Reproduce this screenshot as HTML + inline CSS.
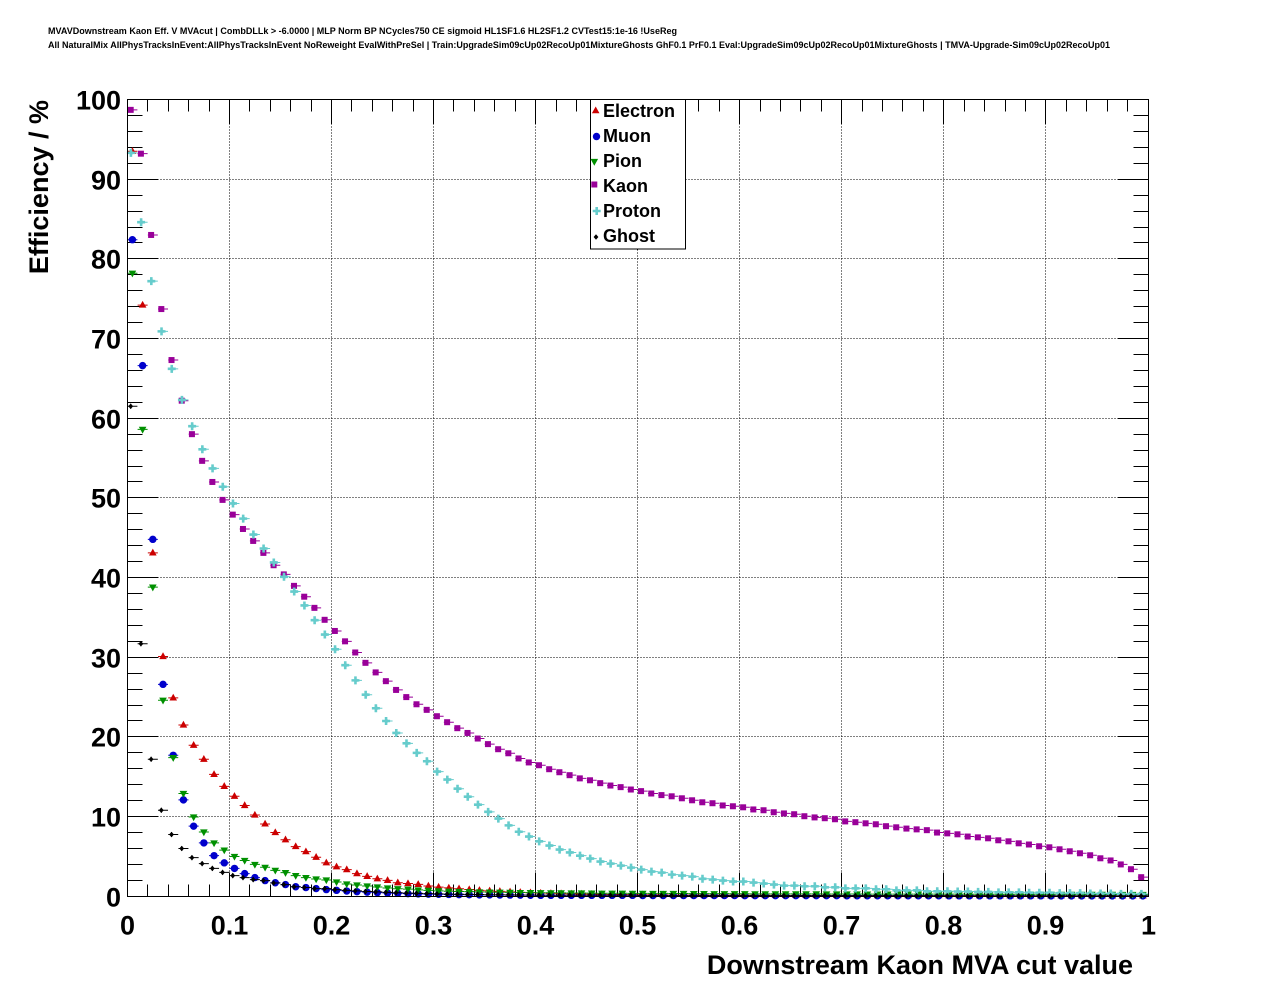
<!DOCTYPE html>
<html><head><meta charset="utf-8">
<style>
html,body{margin:0;padding:0;background:#fff;}
svg{display:block;}
text{font-family:"Liberation Sans",Arial,sans-serif;font-weight:bold;fill:#000;}
</style></head><body>
<svg width="1276" height="996" viewBox="0 0 1276 996" xmlns="http://www.w3.org/2000/svg">
<defs>
<marker id="mE" markerUnits="userSpaceOnUse" markerWidth="1" markerHeight="1" refX="0" refY="0" overflow="visible"><g transform="scale(0.097972,-0.125502)"><path d="M-5,0H5M0,-1.5V1.5" stroke="#cc0000" stroke-width="1" fill="none"/><path d="M0,-4.2L3.8,2.6L-3.8,2.6Z" fill="#cc0000"/></g></marker>
<marker id="mM" markerUnits="userSpaceOnUse" markerWidth="1" markerHeight="1" refX="0" refY="0" overflow="visible"><g transform="scale(0.097972,-0.125502)"><path d="M-5,0H5M0,-1.5V1.5" stroke="#0000cc" stroke-width="1" fill="none"/><circle cx="0" cy="0" r="3.7" fill="#0000cc"/></g></marker>
<marker id="mP" markerUnits="userSpaceOnUse" markerWidth="1" markerHeight="1" refX="0" refY="0" overflow="visible"><g transform="scale(0.097972,-0.125502)"><path d="M-5,0H5M0,-1.5V1.5" stroke="#009000" stroke-width="1" fill="none"/><path d="M-3.8,-2.6L3.8,-2.6L0,4.2Z" fill="#009000"/></g></marker>
<marker id="mK" markerUnits="userSpaceOnUse" markerWidth="1" markerHeight="1" refX="0" refY="0" overflow="visible"><g transform="scale(0.097972,-0.125502)"><path d="M-5,0H5M0,-1.5V1.5" stroke="#990099" stroke-width="1" fill="none"/><rect x="-4.7" y="-3" width="6" height="6" fill="#990099"/></g></marker>
<marker id="mR" markerUnits="userSpaceOnUse" markerWidth="1" markerHeight="1" refX="0" refY="0" overflow="visible"><g transform="scale(0.097972,-0.125502)"><path d="M-5,0H5M0,-1.5V1.5" stroke="#66cccc" stroke-width="1" fill="none"/><path d="M-2.8,-4H-0.2V-1.3H2.5V1.3H-0.2V4H-2.8V1.3H-5.5V-1.3H-2.8Z" fill="#66cccc"/></g></marker>
<marker id="mG" markerUnits="userSpaceOnUse" markerWidth="1" markerHeight="1" refX="0" refY="0" overflow="visible"><g transform="scale(0.097972,-0.125502)"><path d="M-5,0H5M-1.7,-2.5V2.5" stroke="#000" stroke-width="1" fill="none"/><path d="M-1.7,-2.8L0.7,0L-1.7,2.8L-4.1,0Z" fill="#000"/></g></marker>
</defs>

<rect x="0" y="0" width="1276" height="996" fill="#fff"/>

<!-- titles -->
<text x="48" y="34" font-size="9" textLength="629" lengthAdjust="spacingAndGlyphs">MVAVDownstream Kaon Eff. V MVAcut | CombDLLk &gt; -6.0000 | MLP Norm BP NCycles750 CE sigmoid HL1SF1.6 HL2SF1.2 CVTest15:1e-16 !UseReg</text>
<text x="48" y="48" font-size="9" textLength="1062" lengthAdjust="spacingAndGlyphs">All NaturalMix AllPhysTracksInEvent:AllPhysTracksInEvent NoReweight EvalWithPreSel | Train:UpgradeSim09cUp02RecoUp01MixtureGhosts GhF0.1 PrF0.1 Eval:UpgradeSim09cUp02RecoUp01MixtureGhosts | TMVA-Upgrade-Sim09cUp02RecoUp01</text>

<!-- grid -->
<g stroke="#000" stroke-width="1" stroke-dasharray="1,2" fill="none">
<path d="M229.5,99.5V896M331.5,99.5V896M433.5,99.5V896M535.5,99.5V896M637.5,99.5V896M739.5,99.5V896M841.5,99.5V896M943.5,99.5V896M1045.5,99.5V896"/>
<path d="M127.5,816.5H1148.5M127.5,736.5H1148.5M127.5,657.5H1148.5M127.5,577.5H1148.5M127.5,497.5H1148.5M127.5,418.5H1148.5M127.5,338.5H1148.5M127.5,258.5H1148.5M127.5,179.5H1148.5"/>
</g>

<!-- ticks -->
<g stroke="#000" stroke-width="1" fill="none">
<path d="M147.5,896.5v-12M168.5,896.5v-12M188.5,896.5v-12M209.5,896.5v-12M229.5,896.5v-24M249.5,896.5v-12M270.5,896.5v-12M290.5,896.5v-12M311.5,896.5v-12M331.5,896.5v-24M351.5,896.5v-12M372.5,896.5v-12M392.5,896.5v-12M413.5,896.5v-12M433.5,896.5v-24M453.5,896.5v-12M474.5,896.5v-12M494.5,896.5v-12M515.5,896.5v-12M535.5,896.5v-24M556.5,896.5v-12M576.5,896.5v-12M596.5,896.5v-12M617.5,896.5v-12M637.5,896.5v-24M658.5,896.5v-12M678.5,896.5v-12M698.5,896.5v-12M719.5,896.5v-12M739.5,896.5v-24M760.5,896.5v-12M780.5,896.5v-12M800.5,896.5v-12M821.5,896.5v-12M841.5,896.5v-24M862.5,896.5v-12M882.5,896.5v-12M902.5,896.5v-12M923.5,896.5v-12M943.5,896.5v-24M964.5,896.5v-12M984.5,896.5v-12M1005.5,896.5v-12M1025.5,896.5v-12M1045.5,896.5v-24M1066.5,896.5v-12M1086.5,896.5v-12M1107.5,896.5v-12M1127.5,896.5v-12"/>
<path d="M147.5,99.5v12M168.5,99.5v12M188.5,99.5v12M209.5,99.5v12M229.5,99.5v24M249.5,99.5v12M270.5,99.5v12M290.5,99.5v12M311.5,99.5v12M331.5,99.5v24M351.5,99.5v12M372.5,99.5v12M392.5,99.5v12M413.5,99.5v12M433.5,99.5v24M453.5,99.5v12M474.5,99.5v12M494.5,99.5v12M515.5,99.5v12M535.5,99.5v24M556.5,99.5v12M576.5,99.5v12M596.5,99.5v12M617.5,99.5v12M637.5,99.5v24M658.5,99.5v12M678.5,99.5v12M698.5,99.5v12M719.5,99.5v12M739.5,99.5v24M760.5,99.5v12M780.5,99.5v12M800.5,99.5v12M821.5,99.5v12M841.5,99.5v24M862.5,99.5v12M882.5,99.5v12M902.5,99.5v12M923.5,99.5v12M943.5,99.5v24M964.5,99.5v12M984.5,99.5v12M1005.5,99.5v12M1025.5,99.5v12M1045.5,99.5v24M1066.5,99.5v12M1086.5,99.5v12M1107.5,99.5v12M1127.5,99.5v12"/>
<path d="M127.5,880.5h15M127.5,864.5h15M127.5,848.5h15M127.5,832.5h15M127.5,816.5h31M127.5,800.5h15M127.5,784.5h15M127.5,768.5h15M127.5,752.5h15M127.5,736.5h31M127.5,720.5h15M127.5,705.5h15M127.5,689.5h15M127.5,673.5h15M127.5,657.5h31M127.5,641.5h15M127.5,625.5h15M127.5,609.5h15M127.5,593.5h15M127.5,577.5h31M127.5,561.5h15M127.5,545.5h15M127.5,529.5h15M127.5,513.5h15M127.5,497.5h31M127.5,481.5h15M127.5,466.5h15M127.5,450.5h15M127.5,434.5h15M127.5,418.5h31M127.5,402.5h15M127.5,386.5h15M127.5,370.5h15M127.5,354.5h15M127.5,338.5h31M127.5,322.5h15M127.5,306.5h15M127.5,290.5h15M127.5,274.5h15M127.5,258.5h31M127.5,242.5h15M127.5,227.5h15M127.5,211.5h15M127.5,195.5h15M127.5,179.5h31M127.5,163.5h15M127.5,147.5h15M127.5,131.5h15M127.5,115.5h15"/>
<path d="M1148.5,880.5h-15M1148.5,864.5h-15M1148.5,848.5h-15M1148.5,832.5h-15M1148.5,816.5h-31M1148.5,800.5h-15M1148.5,784.5h-15M1148.5,768.5h-15M1148.5,752.5h-15M1148.5,736.5h-31M1148.5,720.5h-15M1148.5,705.5h-15M1148.5,689.5h-15M1148.5,673.5h-15M1148.5,657.5h-31M1148.5,641.5h-15M1148.5,625.5h-15M1148.5,609.5h-15M1148.5,593.5h-15M1148.5,577.5h-31M1148.5,561.5h-15M1148.5,545.5h-15M1148.5,529.5h-15M1148.5,513.5h-15M1148.5,497.5h-31M1148.5,481.5h-15M1148.5,466.5h-15M1148.5,450.5h-15M1148.5,434.5h-15M1148.5,418.5h-31M1148.5,402.5h-15M1148.5,386.5h-15M1148.5,370.5h-15M1148.5,354.5h-15M1148.5,338.5h-31M1148.5,322.5h-15M1148.5,306.5h-15M1148.5,290.5h-15M1148.5,274.5h-15M1148.5,258.5h-31M1148.5,242.5h-15M1148.5,227.5h-15M1148.5,211.5h-15M1148.5,195.5h-15M1148.5,179.5h-31M1148.5,163.5h-15M1148.5,147.5h-15M1148.5,131.5h-15M1148.5,115.5h-15"/>
</g>

<!-- data -->
<g transform="translate(132.4,896.3) scale(10.207,-7.968)" fill="none" stroke="none">
<polyline marker-start="url(#mE)" marker-mid="url(#mE)" marker-end="url(#mE)" points="0,93.5 1,74.2 2,43.1 3,30.1 4,24.9 5,21.5 6,18.96 7,17.2 8,15.3 9,13.8 10,12.55 11,11.4 12,10.2 13,9.08 14,8 15,7.1 16,6.24 17,5.6 18,4.9 19,4.2 20,3.7 21,3.35 22,2.85 23,2.5 24,2.2 25,2 26,1.7 27,1.6 28,1.5 29,1.3 30,1.15 31,1.05 32,.95 33,.85 34,.75 35,.68 36,.62 37,.56 38,.5 39,.45 40,.4 41,.37 42,.34 43,.31 44,.29 45,.27 46,.25 47,.23 48,.22 49,.21 50,.2 51,.19 52,.18 53,.17 54,.17 55,.16 56,.16 57,.15 58,.15 59,.14 60,.14 61,.13 62,.13 63,.13 64,.12 65,.12 66,.12 67,.11 68,.11 69,.11 70,.1 71,.1 72,.1 73,.1 74,.1 75,.09 76,.09 77,.09 78,.09 79,.09 80,.08 81,.08 82,.08 83,.08 84,.08 85,.07 86,.07 87,.07 88,.07 89,.07 90,.06 91,.06 92,.06 93,.06 94,.06 95,.05 96,.05 97,.05 98,.05 99,.05"/>
<polyline marker-start="url(#mM)" marker-mid="url(#mM)" marker-end="url(#mM)" points="0,82.4 1,66.6 2,44.8 3,26.6 4,17.7 5,12.1 6,8.8 7,6.7 8,5.1 9,4.2 10,3.5 11,2.85 12,2.35 13,1.97 14,1.7 15,1.47 16,1.2 17,1.1 18,.97 19,.84 20,.75 21,.66 22,.58 23,.52 24,.46 25,.41 26,.37 27,.33 28,.3 29,.27 30,.25 31,.23 32,.21 33,.19 34,.18 35,.17 36,.16 37,.15 38,.14 39,.13 40,.12 41,.12 42,.12 43,.12 44,.12 45,.12 46,.12 47,.12 48,.12 49,.12 50,.1 51,.1 52,.1 53,.1 54,.1 55,.1 56,.1 57,.1 58,.1 59,.1 60,.08 61,.08 62,.08 63,.08 64,.08 65,.08 66,.08 67,.08 68,.08 69,.08 70,.07 71,.07 72,.07 73,.07 74,.07 75,.07 76,.07 77,.07 78,.07 79,.07 80,.06 81,.06 82,.06 83,.06 84,.06 85,.06 86,.06 87,.06 88,.06 89,.06 90,.05 91,.05 92,.05 93,.05 94,.05 95,.05 96,.05 97,.05 98,.05 99,.05"/>
<polyline marker-start="url(#mP)" marker-mid="url(#mP)" marker-end="url(#mP)" points="0,78.2 1,58.6 2,38.8 3,24.6 4,17.4 5,12.9 6,9.96 7,8.07 8,6.7 9,5.8 10,5 11,4.5 12,4 13,3.64 14,3.26 15,2.97 16,2.6 17,2.35 18,2.17 19,2.05 20,1.8 21,1.55 22,1.42 23,1.3 24,1.17 25,1.04 26,.95 27,.9 28,.8 29,.74 30,.68 31,.64 32,.61 33,.58 34,.55 35,.53 36,.51 37,.49 38,.47 39,.46 40,.45 41,.44 42,.43 43,.42 44,.41 45,.4 46,.39 47,.38 48,.38 49,.37 50,.37 51,.36 52,.36 53,.35 54,.35 55,.34 56,.34 57,.33 58,.33 59,.32 60,.32 61,.31 62,.31 63,.31 64,.3 65,.3 66,.3 67,.3 68,.29 69,.29 70,.29 71,.29 72,.28 73,.28 74,.28 75,.28 76,.28 77,.27 78,.27 79,.27 80,.27 81,.27 82,.26 83,.26 84,.26 85,.26 86,.26 87,.25 88,.25 89,.25 90,.25 91,.25 92,.24 93,.24 94,.24 95,.24 96,.24 97,.23 98,.23 99,.23"/>
<polyline marker-start="url(#mK)" marker-mid="url(#mK)" marker-end="url(#mK)" points="0,98.7 1,93.2 2,83 3,73.7 4,67.3 5,62.2 6,58 7,54.65 8,52 9,49.75 10,47.9 11,46.1 12,44.6 13,43.1 14,41.55 15,40.4 16,38.96 17,37.6 18,36.2 19,34.7 20,33.3 21,32 22,30.6 23,29.3 24,28.1 25,27 26,25.9 27,25 28,24.1 29,23.4 30,22.6 31,21.85 32,21.1 33,20.5 34,19.8 35,19.1 36,18.46 37,17.95 38,17.3 39,16.8 40,16.45 41,15.95 42,15.57 43,15.2 44,14.8 45,14.56 46,14.2 47,13.9 48,13.7 49,13.4 50,13.2 51,12.9 52,12.7 53,12.55 54,12.3 55,12.05 56,11.8 57,11.68 58,11.4 59,11.3 60,11.17 61,10.9 62,10.8 63,10.55 64,10.4 65,10.3 66,10.05 67,9.9 68,9.8 69,9.67 70,9.4 71,9.3 72,9.16 73,9.04 74,8.8 75,8.66 76,8.5 77,8.4 78,8.3 79,8 80,7.9 81,7.78 82,7.5 83,7.4 84,7.28 85,7.03 86,6.9 87,6.65 88,6.5 89,6.28 90,6.15 91,5.9 92,5.65 93,5.4 94,5.15 95,4.77 96,4.5 97,4 98,3.4 99,2.4"/>
<polyline marker-start="url(#mR)" marker-mid="url(#mR)" marker-end="url(#mR)" points="0,93.3 1,84.6 2,77.2 3,70.9 4,66.2 5,62.3 6,59 7,56.1 8,53.7 9,51.4 10,49.3 11,47.4 12,45.4 13,43.65 14,41.9 15,40.1 16,38.25 17,36.5 18,34.65 19,32.85 20,31 21,29 22,27.1 23,25.3 24,23.6 25,22 26,20.5 27,19.2 28,18 29,16.95 30,15.65 31,14.65 32,13.5 33,12.5 34,11.5 35,10.6 36,9.75 37,8.9 38,8.1 39,7.5 40,6.9 41,6.37 42,5.86 43,5.5 44,5.1 45,4.73 46,4.36 47,4.1 48,3.85 49,3.6 50,3.35 51,3.1 52,2.97 53,2.72 54,2.6 55,2.47 56,2.2 57,2.1 58,1.97 59,1.85 60,1.85 61,1.72 62,1.6 63,1.47 64,1.34 65,1.34 66,1.26 67,1.26 68,1.13 69,1.13 70,1 71,1 72,1 73,.88 74,.88 75,.75 76,.75 77,.75 78,.63 79,.63 80,.63 81,.6 82,.6 83,.55 84,.55 85,.5 86,.5 87,.5 88,.45 89,.45 90,.45 91,.4 92,.4 93,.4 94,.35 95,.35 96,.35 97,.3 98,.3 99,.3"/>
<polyline marker-start="url(#mG)" marker-mid="url(#mG)" marker-end="url(#mG)" points="0,61.5 1,31.7 2,17.2 3,10.8 4,7.75 5,6 6,4.85 7,4.1 8,3.5 9,3 10,2.6 11,2.35 12,2.1 13,1.97 14,1.67 15,1.47 16,1.2 17,1.1 18,.97 19,.97 20,.84 21,.75 22,.68 23,.6 24,.55 25,.5 26,.45 27,.4 28,.36 29,.33 30,.3 31,.28 32,.26 33,.24 34,.22 35,.2 36,.19 37,.18 38,.17 39,.16 40,.14 41,.14 42,.14 43,.14 44,.14 45,.14 46,.14 47,.14 48,.14 49,.14 50,.11 51,.11 52,.11 53,.11 54,.11 55,.11 56,.11 57,.11 58,.11 59,.11 60,.09 61,.09 62,.09 63,.09 64,.09 65,.09 66,.09 67,.09 68,.09 69,.09 70,.07 71,.07 72,.07 73,.07 74,.07 75,.07 76,.07 77,.07 78,.07 79,.07 80,.06 81,.06 82,.06 83,.06 84,.06 85,.06 86,.06 87,.06 88,.06 89,.06 90,.05 91,.05 92,.05 93,.05 94,.05 95,.05 96,.05 97,.05 98,.05 99,.05"/>
</g>

<!-- frame -->
<rect x="127.5" y="99.5" width="1021" height="797" fill="none" stroke="#000" stroke-width="1"/>

<!-- legend -->
<rect x="590.5" y="99.5" width="95" height="149.5" fill="#fff" stroke="#000" stroke-width="1"/>
<path d="M595.7,106.5L599.5,113.3L591.9,113.3Z" fill="#cc0000"/>
<circle cx="596.5" cy="136.5" r="3.7" fill="#0000cc"/>
<path d="M590.5,158.9L598.1,158.9L594.3,165.7Z" fill="#009000"/>
<rect x="591.3" y="181.5" width="6" height="6" fill="#990099"/>
<path d="M595.4,207H598V209.7H600.7V212.3H598V215H595.4V212.3H592.7V209.7H595.4Z" fill="#66cccc"/>
<path d="M596,234.2L598.4,237L596,239.8L593.6,237Z" fill="#000"/>
<g font-size="18">
<text x="603" y="117">Electron</text>
<text x="603" y="142">Muon</text>
<text x="603" y="167">Pion</text>
<text x="603" y="192">Kaon</text>
<text x="603" y="217">Proton</text>
<text x="603" y="242">Ghost</text>
</g>

<!-- axis labels -->
<g font-size="27" text-anchor="middle">
<text x="127.5" y="934.5">0</text>
<text x="229.5" y="934.5">0.1</text>
<text x="331.5" y="934.5">0.2</text>
<text x="433.5" y="934.5">0.3</text>
<text x="535.5" y="934.5">0.4</text>
<text x="637.5" y="934.5">0.5</text>
<text x="739.5" y="934.5">0.6</text>
<text x="841.5" y="934.5">0.7</text>
<text x="943.5" y="934.5">0.8</text>
<text x="1045.5" y="934.5">0.9</text>
<text x="1148.5" y="934.5">1</text>
</g>
<g font-size="27" text-anchor="end">
<text x="121" y="906.5">0</text>
<text x="121" y="826.5">10</text>
<text x="121" y="746.5">20</text>
<text x="121" y="667.5">30</text>
<text x="121" y="587.5">40</text>
<text x="121" y="507.5">50</text>
<text x="121" y="428.5">60</text>
<text x="121" y="348.5">70</text>
<text x="121" y="268.5">80</text>
<text x="121" y="189.5">90</text>
<text x="121" y="109.5">100</text>
</g>

<!-- axis titles -->
<text x="1133" y="974" font-size="27" text-anchor="end">Downstream Kaon MVA cut value</text>
<text transform="translate(48,100) rotate(-90)" font-size="27" text-anchor="end">Efficiency / %</text>
</svg>
</body></html>
